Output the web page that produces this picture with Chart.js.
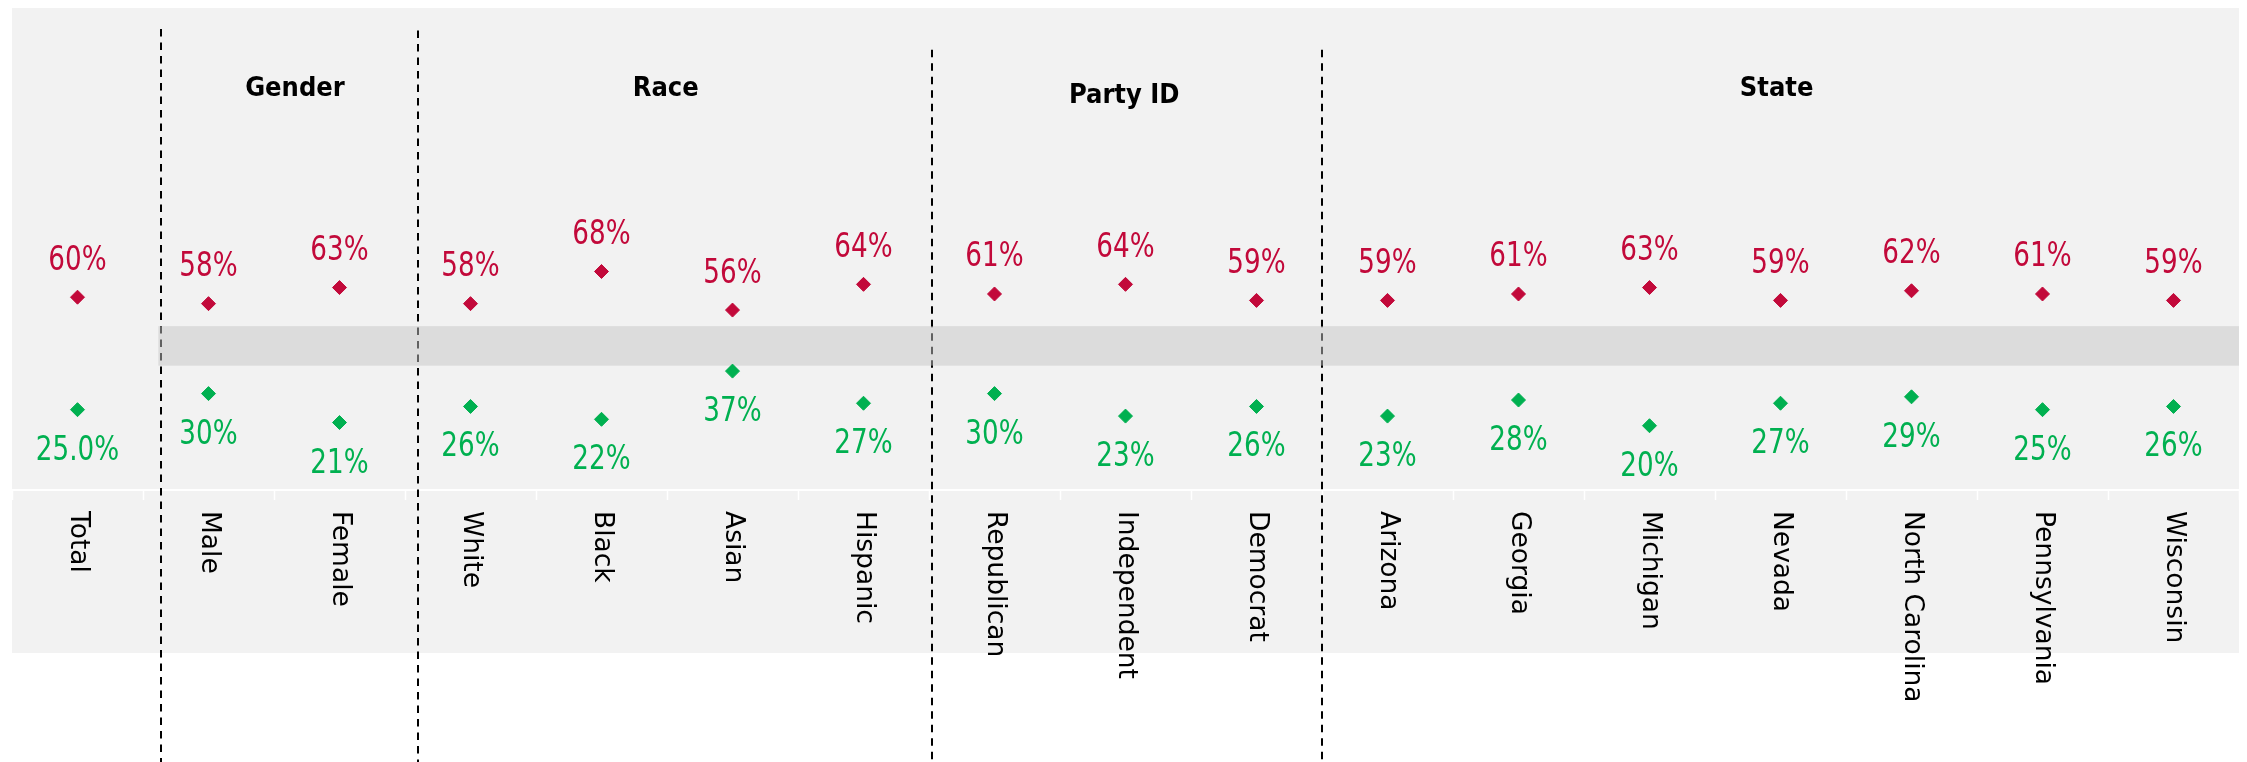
<!DOCTYPE html>
<html>
<head>
<meta charset="utf-8">
<script src="https://cdn.jsdelivr.net/npm/chart.js@4.4.1/dist/chart.umd.min.js"></script>
<style>
  html, body { margin: 0; padding: 0; background: #ffffff; }
  #wrap { width: 2247px; height: 762px; position: relative; }
</style>
</head>
<body>
<div id="wrap"><canvas id="c" width="2247" height="762"></canvas></div>
<script>
// ---- data ----
const categories = ["Total", "Male", "Female", "White", "Black", "Asian", "Hispanic",
  "Republican", "Independent", "Democrat", "Arizona", "Georgia", "Michigan",
  "Nevada", "North Carolina", "Pennsylvania", "Wisconsin"];
const redValues = [60, 58, 63, 58, 68, 56, 64, 61, 64, 59, 59, 61, 63, 59, 62, 61, 59];
const greenValues = [25, 30, 21, 26, 22, 37, 27, 30, 23, 26, 23, 28, 20, 27, 29, 25, 26];
const greenDecimals = [1, 0, 0, 0, 0, 0, 0, 0, 0, 0, 0, 0, 0, 0, 0, 0, 0];
const groupNames = ["Gender", "Race", "Party ID", "State"];
const groupPos = [1.66, 4.49, 7.99, 12.97];      // category-index units
const groupLevel = [122.5, 122.5, 120.4, 122.5]; // value units (baseline)
const separatorPos = [0.64, 2.6, 6.52, 9.5];     // category-index units
const separatorTop = [143.5, 143, 137, 137];     // value units
const bandRange = [38.7, 51];
const yMin = 0, yMax = 150;

// ---- styles ----
const RED = '#C2093A';
const GREEN = '#00B050';
const NUM_FONT = '"Liberation Sans Narrow", "DejaVu Sans Condensed", "Liberation Sans", sans-serif';

const decorPlugin = {
  id: 'decor',
  beforeDraw(chart) {
    const { ctx, chartArea: a, scales: { x, y } } = chart;
    ctx.save();
    ctx.fillStyle = '#ffffff';
    ctx.fillRect(0, 0, chart.width, chart.height);
    ctx.fillStyle = '#F2F2F2';
    ctx.fillRect(a.left, a.top, a.right - a.left, a.bottom + 163 - a.top);
    // white axis line
    ctx.strokeStyle = '#ffffff';
    ctx.lineWidth = 2;
    ctx.beginPath();
    ctx.moveTo(a.left, a.bottom);
    ctx.lineTo(a.right, a.bottom);
    ctx.stroke();
    // tick marks at category boundaries
    ctx.lineWidth = 1.5;
    for (let i = 0; i <= categories.length; i++) {
      const px = Math.round(x.getPixelForValue(i - 0.5)) + 0.5;
      ctx.beginPath();
      ctx.moveTo(px, a.bottom);
      ctx.lineTo(px, a.bottom + 10);
      ctx.stroke();
    }
    // dashed separators
    ctx.strokeStyle = '#000000';
    ctx.lineWidth = 2;
    ctx.setLineDash([7.5, 6]);
    separatorPos.forEach((p, k) => {
      const px = Math.round(x.getPixelForValue(p));
      ctx.beginPath();
      ctx.moveTo(px, y.getPixelForValue(separatorTop[k]));
      ctx.lineTo(px, chart.height);
      ctx.stroke();
    });
    ctx.setLineDash([]);
    // band (semi-transparent, over separators)
    const bx = x.getPixelForValue(separatorPos[0]) - 3;
    const y1 = y.getPixelForValue(bandRange[1]);
    const y2 = y.getPixelForValue(bandRange[0]);
    ctx.fillStyle = 'rgba(197,197,197,0.49)';
    ctx.fillRect(bx, y1, a.right - bx, y2 - y1);
    ctx.restore();
  },
  afterDatasetsDraw(chart) {
    const { ctx, chartArea: a, scales: { x, y } } = chart;
    ctx.save();
    // value labels
    ctx.textAlign = 'center';
    ctx.textBaseline = 'alphabetic';
    const m0 = chart.getDatasetMeta(0).data;
    const m1 = chart.getDatasetMeta(1).data;
    const drawNum = (txt, px, py) => {
      ctx.save();
      ctx.translate(px, py);
      ctx.scale(0.94, 1.08);
      ctx.fillText(txt, 0, 0);
      ctx.restore();
    };
    ctx.font = '31px ' + NUM_FONT;
    ctx.fillStyle = RED;
    m0.forEach((pt, i) => {
      drawNum(redValues[i].toFixed(0) + '%', pt.x, pt.y - 27.5);
    });
    ctx.fillStyle = GREEN;
    m1.forEach((pt, i) => {
      drawNum(greenValues[i].toFixed(greenDecimals[i]) + '%', pt.x, pt.y + 50);
    });
    // group headers
    ctx.fillStyle = '#000000';
    ctx.font = 'bold 27px ' + NUM_FONT;
    groupNames.forEach((g, k) => {
      ctx.fillText(g, x.getPixelForValue(groupPos[k]), y.getPixelForValue(groupLevel[k]));
    });
    // category labels rotated (reading top to bottom)
    ctx.font = '26.5px "DejaVu Sans", sans-serif';
    ctx.textAlign = 'left';
    ctx.textBaseline = 'middle';
    categories.forEach((c, i) => {
      const px = x.getPixelForValue(i);
      ctx.save();
      ctx.translate(px, a.bottom + 21);
      ctx.rotate(Math.PI / 2);
      ctx.fillText(c, 0, 0);
      ctx.restore();
    });
    ctx.restore();
  }
};

new Chart(document.getElementById('c'), {
  type: 'line',
  data: {
    labels: categories,
    datasets: [
      {
        label: 'Red',
        data: redValues,
        showLine: false,
        pointStyle: 'rectRot',
        pointRadius: 7,
        pointBackgroundColor: RED,
        pointBorderColor: RED,
        pointBorderWidth: 1
      },
      {
        label: 'Green',
        data: greenValues,
        showLine: false,
        pointStyle: 'rectRot',
        pointRadius: 7,
        pointBackgroundColor: GREEN,
        pointBorderColor: GREEN,
        pointBorderWidth: 1
      }
    ]
  },
  options: {
    responsive: false,
    animation: false,
    devicePixelRatio: 1,
    layout: { padding: { left: 12, right: 7, top: 4, bottom: 0 } },
    plugins: { legend: { display: false }, tooltip: { enabled: false } },
    scales: {
      x: {
        type: 'category',
        offset: true,
        grid: { display: false },
        border: { display: false },
        ticks: { display: false },
        afterFit(s) { s.height = 272; }
      },
      y: {
        display: false,
        min: yMin,
        max: yMax
      }
    }
  },
  plugins: [decorPlugin]
});
</script>
</body>
</html>
